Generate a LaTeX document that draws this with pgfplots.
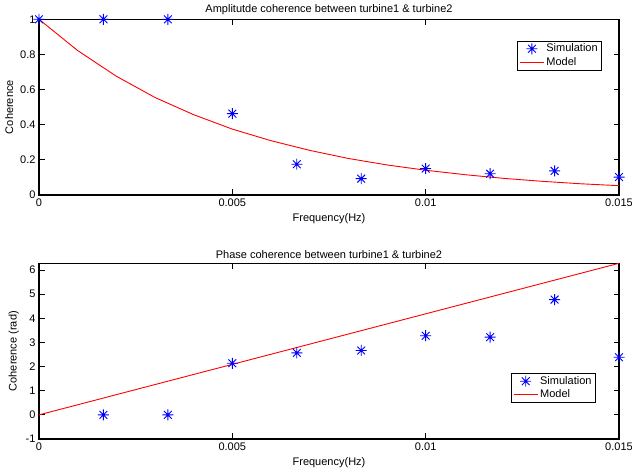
\documentclass[border=0pt]{standalone}
\usepackage{fontspec}
\setmainfont{Liberation Sans}
\usepackage{pgfplots}
\pgfplotsset{compat=1.18}

\pgfdeclareplotmark{mstar}{%
  \pgfpathmoveto{\pgfqpoint{-\pgfplotmarksize}{0pt}}%
  \pgfpathlineto{\pgfqpoint{\pgfplotmarksize}{0pt}}%
  \pgfpathmoveto{\pgfqpoint{0pt}{-\pgfplotmarksize}}%
  \pgfpathlineto{\pgfqpoint{0pt}{\pgfplotmarksize}}%
  \pgfpathmoveto{\pgfqpoint{-0.707\pgfplotmarksize}{-0.707\pgfplotmarksize}}%
  \pgfpathlineto{\pgfqpoint{0.707\pgfplotmarksize}{0.707\pgfplotmarksize}}%
  \pgfpathmoveto{\pgfqpoint{-0.707\pgfplotmarksize}{0.707\pgfplotmarksize}}%
  \pgfpathlineto{\pgfqpoint{0.707\pgfplotmarksize}{-0.707\pgfplotmarksize}}%
  \pgfusepathqstroke}

\definecolor{mblue}{RGB}{0,0,255}
\definecolor{mred}{RGB}{255,0,0}

\pgfplotsset{
  mystyle/.style={
    scale only axis, width=580bp, height=175.7bp,
    xmin=0, xmax=0.015,
    xtick={0,0.005,0.01,0.015}, xticklabels={0,0.005,0.01,0.015},
    scaled x ticks=false, scaled y ticks=false,
    /pgf/number format/assume math mode=true,
    tick align=inside, tick pos=both,
    major tick length=5.5bp,
    axis line style={line width=1.2bp},
    every tick/.style={line width=1.0bp, black},
    clip=false,
    tick label style={font=\fontsize{11bp}{13bp}\selectfont},
    label style={font=\fontsize{11bp}{13bp}\selectfont},
    title style={font=\fontsize{11bp}{13bp}\selectfont, yshift=-4.5bp},
    xlabel={Frequency(Hz)},
    legend cell align=left,
    legend style={draw=black, line width=0.6bp, fill=white,
      font=\fontsize{11bp}{13bp}\selectfont, inner xsep=2bp, inner ysep=1bp,
      /tikz/every even column/.append style={column sep=0bp}},
  },
  simstyle/.style={only marks, mark=mstar, mark size=5.5bp, color=mblue,
    mark options={line width=0.9bp},
    legend image code/.code={\draw[mark repeat=2,mark phase=2,##1] plot coordinates {(0bp,0bp)(12bp,0bp)(24bp,0bp)};}},
  modstyle/.style={color=mred, line width=0.9bp, mark=none,
    legend image code/.code={\draw[##1] (0bp,0bp) -- (24bp,0bp);}},
}

\begin{document}
\begin{tikzpicture}
\begin{axis}[mystyle, at={(39bp,278bp)}, anchor=south west,
  ymin=0, ymax=1,
  ytick={0,0.2,0.4,0.6,0.8,1}, yticklabels={0,0.2,0.4,0.6,0.8,1},
  ylabel={Coherence},
  title={Amplitutde coherence between turbine1 \& turbine2},
  legend style={at={(0.9707,0.878)}, anchor=north east}]
\addplot[simstyle] coordinates {
  (0,1) (0.0016667,1) (0.0033333,1) (0.005,0.463) (0.0066667,0.175)
  (0.0083333,0.093) (0.01,0.150) (0.0116667,0.121) (0.0133333,0.137) (0.015,0.102)};
\addlegendentry{Simulation}
\addplot[modstyle] coordinates {
  (0,1) (0.001,0.822) (0.002,0.676) (0.003,0.555) (0.004,0.457) (0.005,0.375)
  (0.006,0.309) (0.007,0.254) (0.008,0.208) (0.009,0.171) (0.010,0.141)
  (0.011,0.116) (0.012,0.095) (0.013,0.078) (0.014,0.064) (0.015,0.053)};
\addlegendentry{Model}
\end{axis}

\begin{axis}[mystyle, at={(39bp,34bp)}, anchor=south west,
  ymin=-1, ymax=6.2832,
  ytick={-1,0,1,2,3,4,5,6}, yticklabels={-1,0,1,2,3,4,5,6},
  ylabel={Coherence (rad)},
  title={Phase coherence between turbine1 \& turbine2},
  legend style={at={(0.960,0.2066)}, anchor=south east}]
\addplot[simstyle] coordinates {
  (0.0016667,0) (0.0033333,0) (0.005,2.14) (0.0066667,2.57)
  (0.0083333,2.67) (0.01,3.28) (0.0116667,3.22) (0.0133333,4.78) (0.015,2.39)};
\addlegendentry{Simulation}
\addplot[modstyle] coordinates {(0,0) (0.015,6.2832)};
\addlegendentry{Model}
\end{axis}
\pgfresetboundingbox
\path[use as bounding box] (0,0) rectangle (632bp,473bp);
\end{tikzpicture}
\end{document}
